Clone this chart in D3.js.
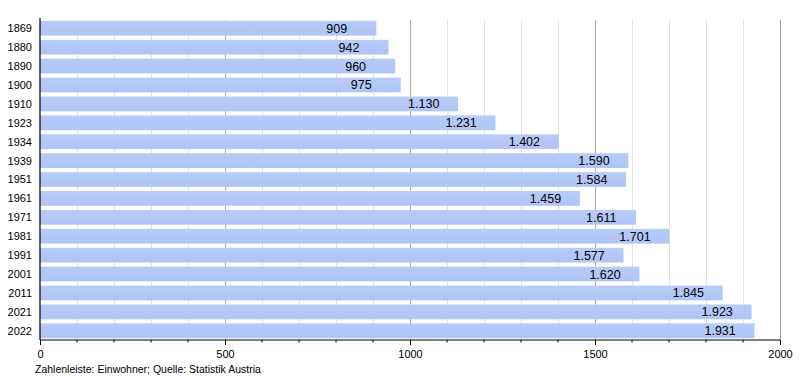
<!DOCTYPE html>
<html><head><meta charset="utf-8">
<script src="https://cdn.jsdelivr.net/npm/d3@7"></script>
<style>body{margin:0;background:#fff;}svg{display:block;font-family:"Liberation Sans",Arial,sans-serif;}</style>
</head><body>
<svg id="c" width="800" height="380"></svg>
<script>
const years = ["1869","1880","1890","1900","1910","1923","1934","1939","1951","1961","1971","1981","1991","2001","2011","2021","2022"];
const population = [909,942,960,975,1130,1231,1402,1590,1584,1459,1611,1701,1577,1620,1845,1923,1931];
const majorTicks = [0,500,1000,1500,2000];
const minorTicks = d3.range(100,2000,100).filter(v=>v%500!==0);
const sourceNote = "Zahlenleiste: Einwohner; Quelle: Statistik Austria";

const svg = d3.select("#c");
const m = {l:40, r:20, t:19, b:40};
const W = 800, H = 380;
const x = d3.scaleLinear().domain([0,2000]).range([m.l, W-m.r]);
const y = d3.scaleBand().domain(years).range([m.t, H-m.b]).paddingInner(0.22).paddingOuter(0.1);
const fmt = v => d3.format(",")(v).replace(/,/g,".");

const defs = svg.append("defs");
const g = defs.append("linearGradient").attr("id","bg").attr("x1",0).attr("x2",0).attr("y1",0).attr("y2",1);
g.append("stop").attr("offset","0%").attr("stop-color","#b8ccf9");
g.append("stop").attr("offset","50%").attr("stop-color","#b3c7f8");
g.append("stop").attr("offset","100%").attr("stop-color","#b0c4f6");

svg.append("g").selectAll("line").data(minorTicks).join("line")
  .attr("x1",d=>x(d)).attr("x2",d=>x(d)).attr("y1",m.t+1).attr("y2",H-m.b)
  .attr("stroke","#e2e2e2").attr("stroke-width",1).attr("shape-rendering","crispEdges");
svg.append("g").selectAll("line").data(majorTicks.slice(1)).join("line")
  .attr("x1",d=>x(d)).attr("x2",d=>x(d)).attr("y1",m.t+1).attr("y2",H-m.b)
  .attr("stroke",d=>d===2000?"#9a9a9a":"#b0b0b0").attr("stroke-width",1).attr("shape-rendering","crispEdges");

svg.append("g").selectAll("rect").data(population).join("rect")
  .attr("x",x(0)).attr("y",(d,i)=>y(years[i]))
  .attr("width",d=>x(d)-x(0)).attr("height",y.bandwidth())
  .attr("fill","url(#bg)");

svg.append("g").selectAll("text").data(population).join("text")
  .attr("x",d=>x(d)-50).attr("y",(d,i)=>y(years[i])+y.bandwidth()/2)
  .attr("dy","0.36em").attr("font-size",12.5).attr("fill","#000")
  .text(d=>fmt(d));

svg.append("g").selectAll("text").data(years).join("text")
  .attr("x",32).attr("y",d=>y(d)+y.bandwidth()/2).attr("dy","0.36em")
  .attr("text-anchor","end").attr("font-size",11).text(d=>d);

const ax = svg.append("g").attr("transform",`translate(0,${H-m.b})`);
ax.call(d3.axisBottom(x).tickValues(majorTicks).tickSize(5).tickPadding(5).tickFormat(d3.format("d")));
ax.select(".domain").remove();
ax.selectAll("text").attr("font-size",11).attr("font-family","Liberation Sans, Arial, sans-serif");
ax.selectAll(".tick line").attr("stroke","#000");
ax.selectAll("line.minor").data(minorTicks).join("line").attr("class","minor")
  .attr("x1",d=>x(d)).attr("x2",d=>x(d)).attr("y1",0).attr("y2",2.5).attr("stroke","#000");
svg.append("line").attr("x1",x(0)).attr("x2",x(2000)).attr("y1",H-m.b).attr("y2",H-m.b)
  .attr("stroke","#000").attr("stroke-width",1.2);
svg.append("line").attr("x1",x(0)).attr("x2",x(0)).attr("y1",m.t-1).attr("y2",H-m.b)
  .attr("stroke","#000").attr("stroke-width",1.2);

svg.append("text").attr("x",35).attr("y",373).attr("font-size",10.5).text(sourceNote);
</script>
</body></html>
